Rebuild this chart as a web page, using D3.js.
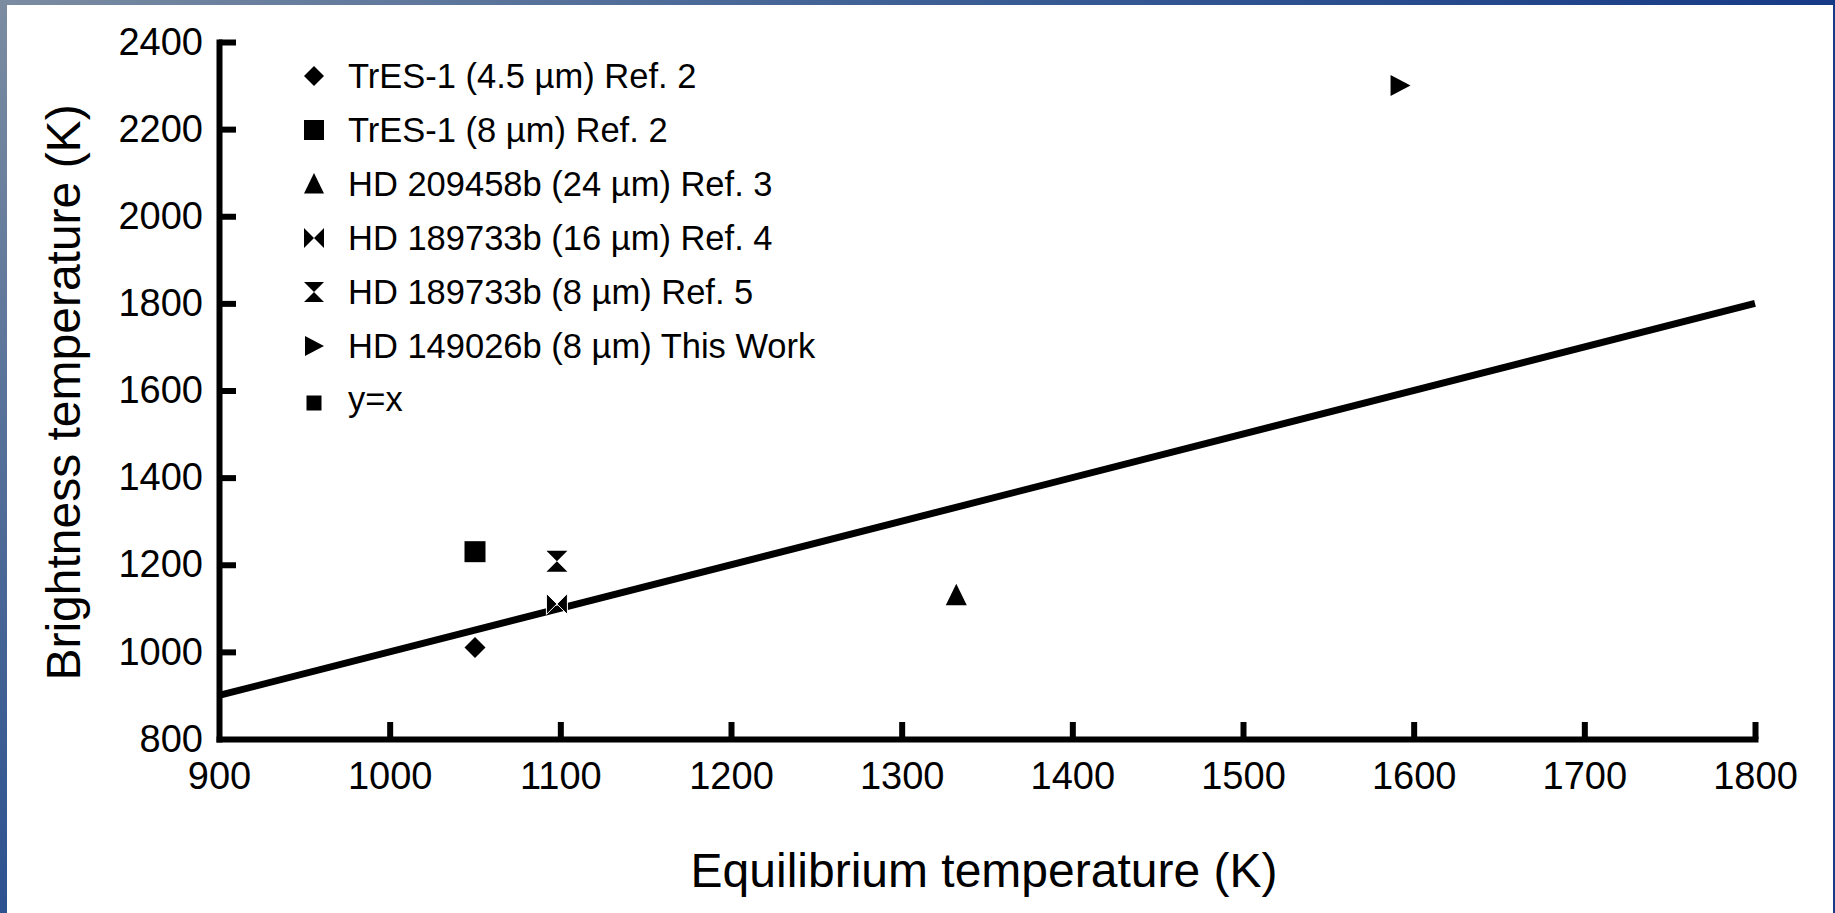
<!DOCTYPE html>
<html>
<head>
<meta charset="utf-8">
<script src="https://cdn.jsdelivr.net/npm/d3@7/dist/d3.min.js"></script>
<style>
  html, body { margin: 0; padding: 0; background: #fff; }
  svg { display: block; }
  text { font-family: "Liberation Sans", Arial, Helvetica, sans-serif; fill: #000; }
</style>
</head>
<body>
<svg id="chart" width="1835" height="913"></svg>
<script>
// ---- Data ----
const seriesNames = [
  "TrES-1 (4.5 \u00b5m) Ref. 2",
  "TrES-1 (8 \u00b5m) Ref. 2",
  "HD 209458b (24 \u00b5m) Ref. 3",
  "HD 189733b (16 \u00b5m) Ref. 4",
  "HD 189733b (8 \u00b5m) Ref. 5",
  "HD 149026b (8 \u00b5m) This Work"
];
const seriesShapes = ["diamond", "square", "triangle", "bowtie", "hourglass", "right"];
const equilibriumT = [1050, 1050, 1332, 1098, 1098, 1592];
const brightnessT  = [1010, 1230, 1130, 1110, 1208, 2300];
const refLineX = [900, 1800];
const refLineY = [900, 1800];
const refLineName = "y=x";
const xTicks = [900, 1000, 1100, 1200, 1300, 1400, 1500, 1600, 1700, 1800];
const yTicks = [800, 1000, 1200, 1400, 1600, 1800, 2000, 2200, 2400];
const xTitle = "Equilibrium temperature (K)";
const yTitle = "Brightness temperature (K)";

// ---- Layout ----
const W = 1835, H = 913;
const svg = d3.select("#chart");

// border frame
const defs = svg.append("defs");
const gTop = defs.append("linearGradient").attr("id", "gTop").attr("x1", 0).attr("x2", 1).attr("y1", 0).attr("y2", 0);
gTop.append("stop").attr("offset", 0).attr("stop-color", "#7b8ca1");
gTop.append("stop").attr("offset", 0.5).attr("stop-color", "#3d5f95");
gTop.append("stop").attr("offset", 1).attr("stop-color", "#163a86");
const gLeft = defs.append("linearGradient").attr("id", "gLeft").attr("x1", 0).attr("x2", 0).attr("y1", 0).attr("y2", 1);
gLeft.append("stop").attr("offset", 0).attr("stop-color", "#7b8ca1");
gLeft.append("stop").attr("offset", 1).attr("stop-color", "#2d5290");

svg.append("rect").attr("x", 0).attr("y", 0).attr("width", W).attr("height", H).attr("fill", "#fff");
svg.append("rect").attr("x", 0).attr("y", 0).attr("width", W).attr("height", 5).attr("fill", "url(#gTop)");
svg.append("rect").attr("x", 0).attr("y", 0).attr("width", 7).attr("height", H).attr("fill", "url(#gLeft)");
svg.append("rect").attr("x", 1833).attr("y", 0).attr("width", 2).attr("height", H).attr("fill", "#163a86");

const x = d3.scaleLinear().domain([900, 1800]).range([219, 1755]);
const y = d3.scaleLinear().domain([800, 2400]).range([739, 42]);

const AXW = 6;

// x axis
const xAxis = svg.append("g").attr("transform", `translate(0,${y(800)})`)
  .call(d3.axisBottom(x).tickValues(xTicks).tickFormat(d3.format("d"))
    .tickSizeInner(-17).tickSizeOuter(0).tickPadding(23));
// y axis
const yAxis = svg.append("g").attr("transform", `translate(${x(900)},0)`)
  .call(d3.axisLeft(y).tickValues(yTicks).tickFormat(d3.format("d"))
    .tickSizeInner(-17).tickSizeOuter(0).tickPadding(16));

[xAxis, yAxis].forEach(g => {
  g.select(".domain").attr("stroke", "#000").attr("stroke-width", AXW).attr("stroke-linecap", "square");
  g.selectAll(".tick line").attr("stroke", "#000").attr("stroke-width", AXW);
  g.selectAll(".tick text").attr("font-size", 38).attr("fill", "#000")
    .style("font-family", '"Liberation Sans", Arial, sans-serif');
});
xAxis.selectAll(".tick").filter(d => d === 900).select("line").remove();
yAxis.selectAll(".tick").filter(d => d === 800).select("line").remove();

// axis titles
svg.append("text").attr("x", (x(900) + x(1800)) / 2 - 3).attr("y", 887)
  .attr("text-anchor", "middle").attr("font-size", 48).text(xTitle);
svg.append("text").attr("transform", `translate(80,${(y(800) + y(2400)) / 2 + 2}) rotate(-90)`)
  .attr("text-anchor", "middle").attr("font-size", 48).text(yTitle);

// y = x line
svg.append("line")
  .attr("x1", x(refLineX[0])).attr("y1", y(refLineY[0]))
  .attr("x2", x(refLineX[1])).attr("y2", y(refLineY[1]))
  .attr("stroke", "#000").attr("stroke-width", 7);

// marker shapes
function shapePath(type, s) {
  switch (type) {
    case "diamond": return `M0,${-s}L${s},0L0,${s}L${-s},0Z`;
    case "square": return `M${-s},${-s}H${s}V${s}H${-s}Z`;
    case "triangle": return `M0,${-s * 1.1}L${s},${s * 0.95}L${-s},${s * 0.95}Z`;
    case "bowtie": return `M${-s},${-s}L0,0L${-s},${s}Z M${s},${-s}L0,0L${s},${s}Z`;
    case "hourglass": return `M${-s},${-s}H${s}L0,0Z M${-s},${s}H${s}L0,0Z`;
    case "right": return `M${-s * 0.9},${-s}L${s},0L${-s * 0.9},${s}Z`;
  }
}

// data points
svg.append("g").selectAll("path").data(seriesNames.map((n, i) => i)).join("path")
  .attr("transform", i => `translate(${x(equilibriumT[i])},${y(brightnessT[i])})`)
  .attr("d", i => shapePath(seriesShapes[i], 10.5))
  .attr("fill", "#000")
  .attr("stroke", i => seriesShapes[i] === "bowtie" ? "#fff" : "none")
  .attr("stroke-width", 1);

// legend
const legX = 314, legTextX = 348, legY0 = 76, legDY = 54;
const leg = svg.append("g");
seriesNames.forEach((n, i) => {
  const cy = legY0 + i * legDY;
  leg.append("path").attr("transform", `translate(${legX},${cy})`)
    .attr("d", shapePath(seriesShapes[i], 10)).attr("fill", "#000");
  leg.append("text").attr("x", legTextX).attr("y", cy + 12).attr("font-size", 34.5).text(n);
});
{
  const cy = legY0 + seriesNames.length * legDY + 3;
  leg.append("path").attr("transform", `translate(${legX},${cy})`)
    .attr("d", shapePath("square", 7.5)).attr("fill", "#000");
  leg.append("text").attr("x", legTextX).attr("y", cy + 8).attr("font-size", 34.5).text(refLineName);
}
</script>
</body>
</html>
